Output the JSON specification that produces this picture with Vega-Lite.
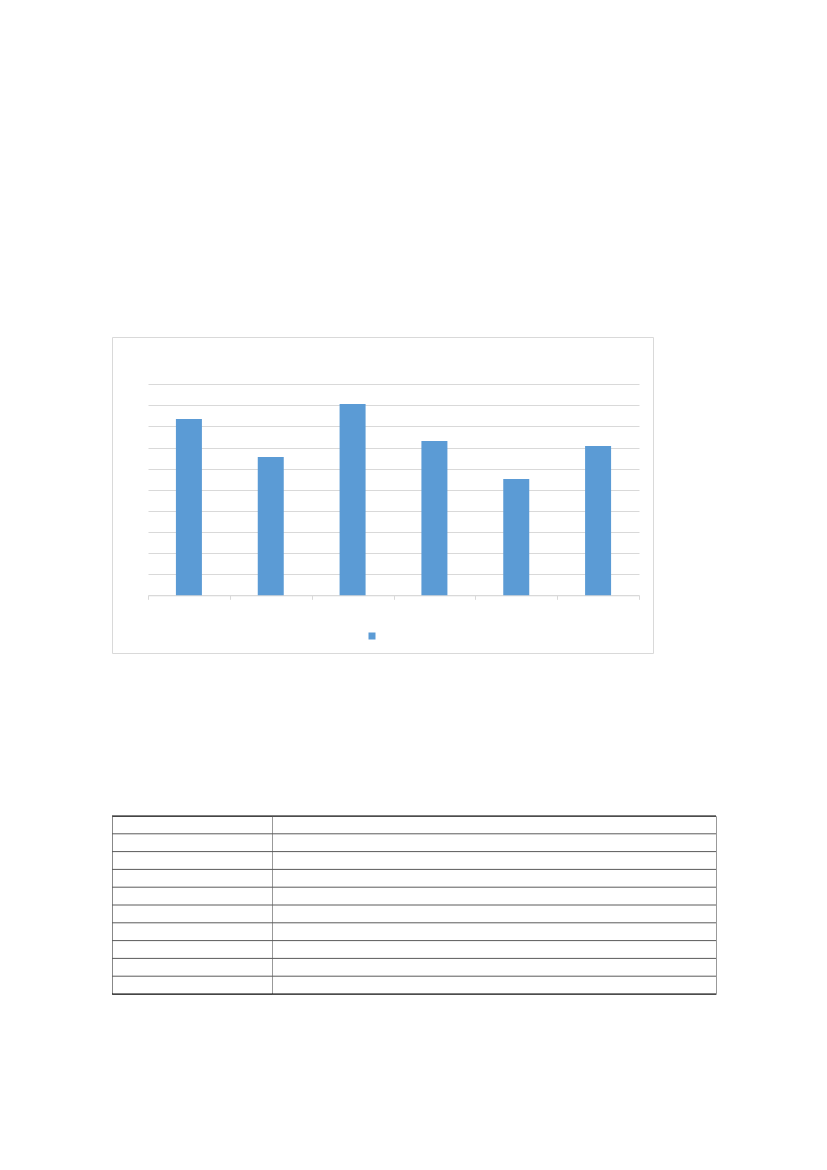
{
  "$schema": "https://vega.github.io/schema/vega-lite/v6.json",
  "background": "white",
  "padding": {"left": 111, "top": 336, "right": 0, "bottom": 0},
  "datasets": {
    "bars": [
      {"category": 1, "value": 8.36, "series": "Series1"},
      {"category": 2, "value": 6.56, "series": "Series1"},
      {"category": 3, "value": 9.07, "series": "Series1"},
      {"category": 4, "value": 7.31, "series": "Series1"},
      {"category": 5, "value": 5.51, "series": "Series1"},
      {"category": 6, "value": 7.08, "series": "Series1"}
    ],
    "rows": [
      {"line": 0}, {"line": 1}, {"line": 2}, {"line": 3}, {"line": 4}, {"line": 5},
      {"line": 6}, {"line": 7}, {"line": 8}, {"line": 9}, {"line": 10}
    ]
  },
  "config": {
    "view": {"stroke": "#d9d9d9", "strokeWidth": 1},
    "axis": {"gridColor": "#d9d9d9", "gridWidth": 1}
  },
  "bounds": "flush",
  "spacing": 163,
  "vconcat": [
    {
      "width": 541,
      "height": 316,
      "data": {"name": "bars"},
      "mark": {"type": "bar", "width": 26, "color": "#5b9bd5"},
      "encoding": {
        "x": {
          "field": "category",
          "type": "quantitative",
          "scale": {"domain": [0.5, 6.5], "range": [36, 527], "nice": false, "zero": false, "padding": 0},
          "axis": {
            "values": [0.5, 1.5, 2.5, 3.5, 4.5, 5.5, 6.5],
            "labels": false,
            "title": null,
            "grid": false,
            "domainColor": "#d9d9d9",
            "tickColor": "#d9d9d9",
            "tickSize": 4,
            "offset": -57.7
          }
        },
        "y": {
          "field": "value",
          "type": "quantitative",
          "scale": {"domain": [0, 10], "range": [258.3, 47.3], "nice": false},
          "axis": {
            "values": [0, 1, 2, 3, 4, 5, 6, 7, 8, 9, 10],
            "labels": false,
            "ticks": false,
            "domain": false,
            "title": null,
            "grid": true,
            "gridColor": "#d9d9d9"
          }
        },
        "color": {
          "field": "series",
          "type": "nominal",
          "scale": {"range": ["#5b9bd5"]},
          "legend": {
            "orient": "none",
            "legendX": 255,
            "legendY": 294,
            "title": null,
            "symbolType": "square",
            "symbolSize": 49,
            "symbolStrokeWidth": 0,
            "labelExpr": "''",
            "padding": 0
          }
        }
      }
    },
    {
      "spacing": 0,
      "bounds": "flush",
      "hconcat": [
        {
          "width": 160,
          "height": 178,
          "data": {"name": "rows"},
          "view": {"stroke": "#888888", "strokeWidth": 1},
          "mark": {"type": "rule", "strokeWidth": 1},
          "encoding": {
            "y": {"field": "line", "type": "quantitative", "scale": {"domain": [0, 10], "nice": false}, "axis": null},
            "color": {"condition": {"test": "datum.line == 0 || datum.line == 10", "value": "#000000"}, "value": "#5a5a5a"}
          }
        },
        {
          "width": 444,
          "height": 178,
          "data": {"name": "rows"},
          "view": {"stroke": "#999999", "strokeWidth": 1},
          "mark": {"type": "rule", "strokeWidth": 1},
          "encoding": {
            "y": {"field": "line", "type": "quantitative", "scale": {"domain": [0, 10], "nice": false}, "axis": null},
            "color": {"condition": {"test": "datum.line == 0 || datum.line == 10", "value": "#000000"}, "value": "#5a5a5a"}
          }
        }
      ]
    }
  ]
}
